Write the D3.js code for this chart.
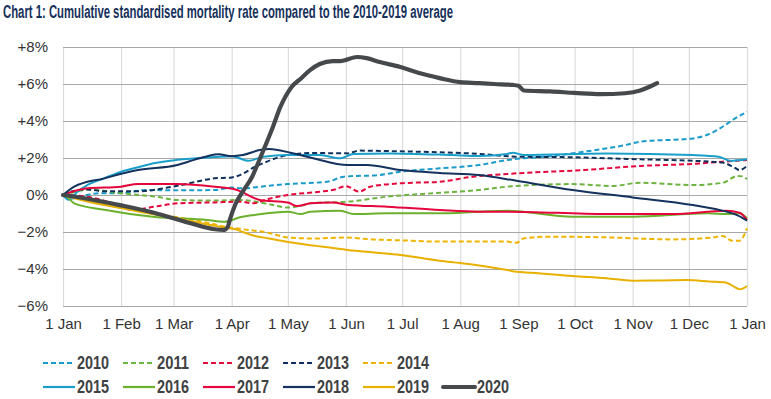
<!DOCTYPE html>
<html>
<head>
<meta charset="utf-8">
<script src="https://cdn.jsdelivr.net/npm/d3@7"></script>
<style>
  html, body { margin: 0; padding: 0; background: #ffffff; }
  svg { display: block; }
</style>
</head>
<body>
<svg id="chart" width="771" height="399"></svg>
<script>
// ---- Data (day of year, cumulative % vs 2010-2019 average) ----
const years = ["2010","2011","2012","2013","2014","2015","2016","2017","2018","2019","2020"];
const dashed = ["2010","2011","2012","2013","2014"];
const colors = ["#1b9bca","#6db33f","#e4073d","#10305c","#eeb400","#1a9fcb","#6cb12d","#e4073d","#14325d","#e8b100","#45494c"];

const y2010 = [[0,0],[4,-0.2],[10,-0.05],[20,0.1],[31,0.1],[44,0.27],[61,0.25],[81,0.27],[90,0.4],[95,0.36],[110,0.5],[120,0.59],[141,0.72],[150,0.99],[169,1.08],[180,1.26],[201,1.44],[222,1.62],[237,1.89],[260,2.1],[278,2.34],[300,2.7],[308,2.88],[336,3.06],[345,3.3],[352,3.69],[358,4.1],[365,4.5]];
const y2011 = [[0,0],[8,0.2],[13,0.3],[31,0.1],[50,-0.1],[61,-0.27],[80,-0.3],[95,-0.27],[110,-0.5],[120,-0.68],[127,-0.58],[133,-0.43],[152,-0.36],[173,-0.09],[197,0.09],[222,0.27],[237,0.45],[272,0.59],[293,0.49],[308,0.66],[336,0.54],[352,0.66],[360,1.03],[363,1.0],[365,0.85]];
const y2012 = [[0,0],[13,-0.1],[25,-0.4],[37,-0.8],[49,-0.63],[61,-0.45],[81,-0.4],[95,-0.36],[101,-0.45],[110,-0.2],[120,0],[137,0.18],[145,0.3],[151,0.48],[158,0.18],[164,0.45],[180,0.63],[201,0.72],[219,0.99],[242,1.17],[278,1.35],[308,1.57],[336,1.68],[352,1.8],[365,1.89]];
const y2013 = [[0,0],[5,0.2],[13,0.3],[22,0.2],[40,0.2],[61,0.5],[81,0.9],[90,0.95],[95,1.1],[102,1.5],[107,1.73],[120,2.16],[133,2.27],[152,2.25],[158,2.4],[180,2.36],[190,2.34],[222,2.22],[242,2.07],[272,2.04],[308,1.93],[336,1.85],[352,1.75],[358,1.5],[361,1.35],[365,1.57]];
const y2014 = [[0,0],[13,-0.3],[31,-0.65],[49,-1.0],[61,-1.2],[77,-1.5],[86,-1.7],[92,-1.8],[100,-1.9],[110,-2.05],[120,-2.3],[135,-2.35],[150,-2.3],[165,-2.4],[180,-2.45],[201,-2.52],[237,-2.52],[242,-2.58],[246,-2.34],[260,-2.25],[290,-2.29],[325,-2.4],[347,-2.29],[352,-2.22],[357,-2.47],[361,-2.47],[365,-1.8]];
const y2015 = [[0,0],[3,-0.25],[8,0.2],[13,0.54],[22,0.9],[31,1.26],[40,1.5],[49,1.73],[61,1.9],[81,2.05],[90,2.1],[99,1.85],[107,2.07],[120,2.16],[137,2.16],[148,1.98],[155,2.22],[173,2.25],[208,2.16],[222,2.11],[237,2.22],[240,2.29],[246,2.16],[290,2.25],[336,2.16],[350,2.07],[356,1.85],[365,1.93]];
const y2016 = [[0,0],[2,-0.1],[6,-0.45],[22,-0.8],[49,-1.19],[77,-1.35],[86,-1.45],[95,-1.19],[102,-1.08],[120,-0.9],[127,-1.03],[132,-0.9],[148,-0.85],[155,-1.03],[173,-0.99],[201,-0.99],[222,-0.9],[237,-0.85],[272,-1.17],[304,-1.17],[344,-0.99],[354,-1.03],[361,-0.99],[365,-1.26]];
const y2017 = [[0,0],[13,0.36],[31,0.45],[40,0.6],[61,0.6],[81,0.45],[92,0.3],[95,0.18],[105,-0.27],[120,-0.41],[125,-0.6],[132,-0.45],[144,-0.41],[152,-0.54],[173,-0.63],[201,-0.81],[222,-0.9],[237,-0.9],[290,-1.03],[325,-1.03],[354,-0.85],[361,-0.96],[365,-1.35]];
const y2018 = [[0,0],[6,0.45],[22,0.9],[40,1.35],[61,1.62],[70,1.9],[77,2.1],[83,2.2],[90,2.1],[96,2.16],[105,2.43],[110,2.49],[122,2.27],[133,2.0],[152,1.62],[162,1.62],[180,1.35],[201,1.19],[222,1.08],[242,0.77],[272,0.27],[304,-0.13],[336,-0.54],[354,-0.9],[360,-1.1],[365,-1.39]];
const y2019 = [[0,0],[13,-0.35],[31,-0.7],[49,-1.05],[61,-1.25],[77,-1.6],[86,-1.75],[92,-1.85],[96,-2.0],[102,-2.2],[110,-2.35],[120,-2.54],[135,-2.75],[152,-2.97],[165,-3.1],[180,-3.24],[201,-3.55],[212,-3.68],[225,-3.85],[237,-4.05],[242,-4.15],[250,-4.2],[272,-4.38],[290,-4.5],[304,-4.63],[320,-4.62],[333,-4.6],[345,-4.68],[354,-4.74],[358,-4.95],[361,-5.1],[363,-5.05],[365,-4.92]];
const y2020 = [[0,0],[13,-0.2],[31,-0.56],[49,-0.97],[67,-1.5],[81,-1.85],[86,-1.88],[88,-1.7],[89,-1.35],[92,-0.5],[96,0.2],[101,1.0],[104,1.7],[107,2.43],[112,3.68],[116,4.76],[122,5.84],[127,6.3],[132,6.76],[137,7.08],[144,7.24],[148,7.24],[157,7.46],[162,7.4],[169,7.19],[180,6.92],[190,6.59],[201,6.32],[212,6.1],[222,6.05],[230,6.0],[240,5.95],[243,5.9],[246,5.65],[260,5.6],[273,5.52],[287,5.45],[300,5.5],[308,5.65],[313,5.85],[317,6.05]];
const series = [y2010,y2011,y2012,y2013,y2014,y2015,y2016,y2017,y2018,y2019,y2020];

const yTicks = [-6,-4,-2,0,2,4,6,8];
const title = "Chart 1: Cumulative standardised mortality rate compared to the 2010-2019 average";

// ---- Drawing ----
const svg = d3.select("#chart");
const start = new Date(2019,0,1), end = new Date(2020,0,1);
const x = d3.scaleTime().domain([start, end]).range([63, 747]);
const y = d3.scaleLinear().domain([-6, 8]).range([306, 47]);
const dayToDate = d => d3.timeDay.offset(start, d);
const monthTicks = d3.timeMonth.range(start, d3.timeDay.offset(end, 1));

svg.append("text")
  .attr("x", 3).attr("y", 18)
  .attr("textLength", 450).attr("lengthAdjust", "spacingAndGlyphs")
  .style("font-family", "'Liberation Sans Narrow','Arial Narrow','Liberation Sans',Arial,sans-serif")
  .style("font-weight", "bold").style("font-size", "17.5px")
  .style("fill", "#15305a")
  .text(title);

// vertical grid
const gx = svg.append("g").attr("transform", "translate(0,306)")
  .call(d3.axisBottom(x).tickValues(monthTicks).tickSize(-259).tickFormat(d3.timeFormat("1 %b")).tickPadding(12));
gx.select(".domain").remove();
gx.selectAll(".tick line").attr("stroke", "#dcdcdc").attr("stroke-width", 1.2);
gx.selectAll(".tick text")
  .style("font-family", "'Liberation Sans',Arial,sans-serif").style("font-size", "15px").style("fill", "#333");

// horizontal grid
const fmt = v => v > 0 ? "+" + v + "%" : v < 0 ? "\u2212" + Math.abs(v) + "%" : "0%";
const gy = svg.append("g").attr("transform", "translate(63,0)")
  .call(d3.axisLeft(y).tickValues(yTicks).tickSize(-684).tickFormat(fmt).tickPadding(15));
gy.select(".domain").remove();
gy.selectAll(".tick line").attr("stroke", "#a8a8a8").attr("stroke-width", 1.2);
gy.selectAll(".tick text")
  .style("font-family", "'Liberation Sans',Arial,sans-serif").style("font-size", "15px").style("fill", "#333");

// lines
const line = d3.line().x(d => x(dayToDate(d[0]))).y(d => y(d[1])).curve(d3.curveMonotoneX);
series.forEach((s, i) => {
  const yr = years[i];
  svg.append("path")
    .datum(s)
    .attr("fill", "none")
    .attr("stroke", colors[i])
    .attr("stroke-width", yr === "2020" ? 4.2 : 2)
    .attr("stroke-dasharray", dashed.includes(yr) ? "5,3" : null)
    .attr("stroke-linejoin", "round")
    .attr("stroke-linecap", yr === "2020" ? "round" : "butt")
    .attr("d", line);
});

// legend
const leg = svg.append("g");
years.forEach((yr, i) => {
  const row = i < 5 ? 0 : 1;
  const col = i < 5 ? i : i - 5;
  const lx = 43 + col * 80, ly = row === 0 ? 363 : 387;
  leg.append("line")
    .attr("x1", lx).attr("x2", lx + 32).attr("y1", ly).attr("y2", ly)
    .attr("stroke", colors[i])
    .attr("stroke-width", yr === "2020" ? 4 : 2.2)
    .attr("stroke-linecap", yr === "2020" ? "round" : "butt")
    .attr("stroke-dasharray", dashed.includes(yr) ? "5,3" : null);
  leg.append("text")
    .attr("x", lx + 34).attr("y", ly + 6)
    .attr("textLength", 32).attr("lengthAdjust", "spacingAndGlyphs")
    .style("font-family", "'Liberation Sans Narrow','Arial Narrow','Liberation Sans',Arial,sans-serif")
    .style("font-weight", "bold").style("font-size", "17.5px").style("fill", "#3f4142")
    .text(yr);
});
</script>
</body>
</html>
